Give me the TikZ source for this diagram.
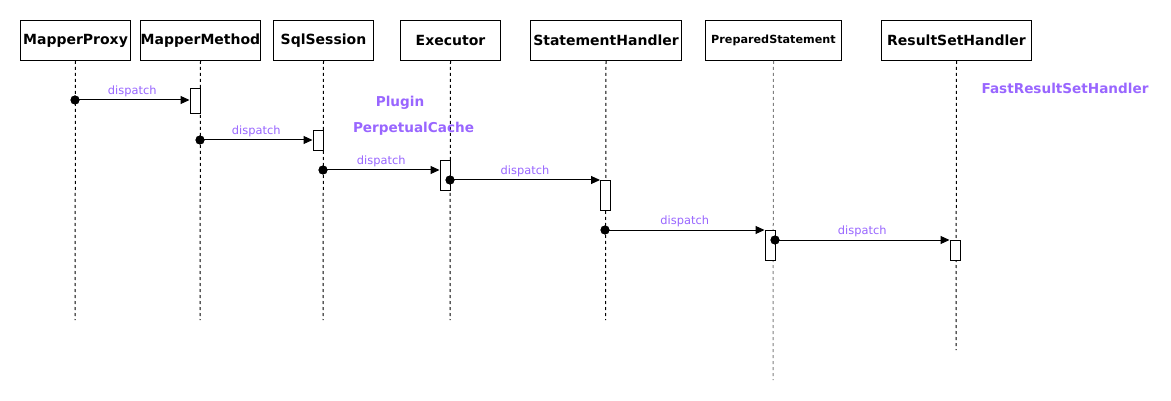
\documentclass[tikz,border=0pt]{standalone}
\usepackage{fontspec}
\setmainfont{DejaVu Sans}
\usetikzlibrary{arrows.meta}
\definecolor{purp}{RGB}{153,102,255}
\begin{document}
\begin{tikzpicture}[x=1pt,y=-1pt,line width=1pt,
  hdr/.style={draw,fill=white,minimum height=40pt,inner sep=0pt,anchor=north west,
    font=\fontsize{14}{16}\selectfont\bfseries},
  lifeline/.style={dash pattern=on 3pt off 3pt,line width=1pt},
  act/.style={draw,fill=white,minimum width=10pt,inner sep=0pt,anchor=north},
  dotnode/.style={circle,fill=black,inner sep=0pt,minimum size=9pt},
  msg/.style={-{Triangle[length=9pt,width=8pt]}},
  lbl/.style={text=purp,font=\fontsize{11.4}{13}\selectfont,yshift=9pt},
  note/.style={text=purp,font=\fontsize{13.6}{16}\selectfont\bfseries}
]
\useasboundingbox (0,0) rectangle (1171,401);
\fill[white] (0,0) rectangle (1171,401);

% headers
\node[hdr,minimum width=110pt] (mp) at (20,20) {MapperProxy};
\node[hdr,minimum width=120pt] (mm) at (140,20) {MapperMethod};
\node[hdr,minimum width=100pt] (ss) at (273,20) {SqlSession};
\node[hdr,minimum width=100pt] (ex) at (400,20) {Executor};
\node[hdr,minimum width=151pt] (sh) at (530,20) {StatementHandler};
\node[hdr,minimum width=136pt,font=\fontsize{11.2}{13}\selectfont\bfseries] (ps) at (705,20) {PreparedStatement};
\node[hdr,minimum width=150pt] (rs) at (881,20) {ResultSetHandler};

% lifeline ends
\coordinate (mpE) at (75,320);
\coordinate (mmE) at (200,320);
\coordinate (ssE) at (323,320);
\coordinate (exE) at (450,320);
\coordinate (shE) at (605.5,320);
\coordinate (psE) at (773,380);
\coordinate (rsE) at (956,350);

\draw[lifeline] (mp.south) -- (mpE);
\draw[lifeline] (mm.south) -- (mmE);
\draw[lifeline] (ss.south) -- (ssE);
\draw[lifeline] (ex.south) -- (exE);
\draw[lifeline] (sh.south) -- (shE);
\draw[lifeline,gray] (ps.south) -- (psE);
\draw[lifeline] (rs.south) -- (rsE);

% notes
\node[note] (plugin) at (400,103) {Plugin};
\node[note] (pcache) at (413.5,129) {PerpetualCache};
\node[note] (frsh) at (1065,88) {FastResultSetHandler};

% activations
\node[act,minimum height=25pt] (a1) at (195,88) {};
\node[act,minimum height=20pt] (a2) at (318,130) {};
\node[act,minimum height=30pt] (a3) at (445,160) {};
\node[act,minimum height=30pt] (a4) at (605.5,180) {};
\node[act,minimum height=30pt] (a5) at (770,230) {};
\node[act,minimum height=20pt] (a6) at (955,240) {};

% sources
\node[dotnode] (d1) at (75,100) {};
\node[dotnode] (d2) at (200,140) {};
\node[dotnode] (d3) at (323,170) {};
\node[dotnode] (d4) at (450,180) {};
\node[dotnode] (d5) at (605,230) {};
\node[dotnode] (d6) at (775,240) {};

% messages
\draw[msg] (d1.center) -- (d1.center -| a1.west) node[midway,lbl] {dispatch};
\draw[msg] (d2.center) -- (d2.center -| a2.west) node[midway,lbl] {dispatch};
\draw[msg] (d3.center) -- (d3.center -| a3.west) node[midway,lbl] {dispatch};
\draw[msg] (d4.center) -- (d4.center -| a4.west) node[midway,lbl] {dispatch};
\draw[msg] (d5.center) -- (d5.center -| a5.west) node[midway,lbl] {dispatch};
\draw[msg] (d6.center) -- (d6.center -| a6.west) node[midway,lbl] {dispatch};

% redraw dots on top
\fill (d1.center) circle (4.5pt);
\fill (d2.center) circle (4.5pt);
\fill (d3.center) circle (4.5pt);
\fill (d4.center) circle (4.5pt);
\fill (d5.center) circle (4.5pt);
\fill (d6.center) circle (4.5pt);
\end{tikzpicture}
\end{document}
